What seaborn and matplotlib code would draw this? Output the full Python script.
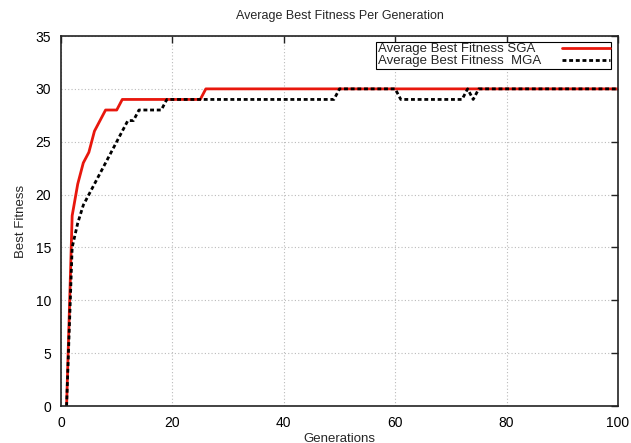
import matplotlib
matplotlib.use("Agg")
import matplotlib.pyplot as plt
import numpy as np
import pandas as pd
import seaborn as sns

# ---------------------------------------------------------------------------
# DATA
# ---------------------------------------------------------------------------
generations = list(range(1, 101))

sga_fitness = [
    0, 18, 21, 23, 24, 26, 27, 28, 28, 28,
    29, 29, 29, 29, 29, 29, 29, 29, 29, 29,
    29, 29, 29, 29, 29, 30, 30, 30, 30, 30,
    30, 30, 30, 30, 30, 30, 30, 30, 30, 30,
    30, 30, 30, 30, 30, 30, 30, 30, 30, 30,
    30, 30, 30, 30, 30, 30, 30, 30, 30, 30,
    30, 30, 30, 30, 30, 30, 30, 30, 30, 30,
    30, 30, 30, 30, 30, 30, 30, 30, 30, 30,
    30, 30, 30, 30, 30, 30, 30, 30, 30, 30,
    30, 30, 30, 30, 30, 30, 30, 30, 30, 30,
]

mga_fitness = [
    0, 15, 17.3, 19, 20, 21, 22, 23, 24, 25,
    26, 27, 27, 28, 28, 28, 28, 28, 29, 29,
    29, 29, 29, 29, 29, 29, 29, 29, 29, 29,
    29, 29, 29, 29, 29, 29, 29, 29, 29, 29,
    29, 29, 29, 29, 29, 29, 29, 29, 29, 30,
    30, 30, 30, 30, 30, 30, 30, 30, 30, 30,
    29, 29, 29, 29, 29, 29, 29, 29, 29, 29,
    29, 29, 30, 29, 30, 30, 30, 30, 30, 30,
    30, 30, 30, 30, 30, 30, 30, 30, 30, 30,
    30, 30, 30, 30, 30, 30, 30, 30, 30, 30,
]

labels = ["Average Best Fitness SGA  ", "Average Best Fitness  MGA"]
x_ticks = [0, 20, 40, 60, 80, 100]
y_ticks = [0, 5, 10, 15, 20, 25, 30, 35]

df_sga = pd.DataFrame({"gen": generations, "fit": sga_fitness})
df_mga = pd.DataFrame({"gen": generations, "fit": mga_fitness})

# ---------------------------------------------------------------------------
# PLOT
# ---------------------------------------------------------------------------
sns.set_style("white")
plt.rcParams["font.family"] = ["Liberation Sans", "DejaVu Sans"]

fig = plt.figure(figsize=(6.31, 4.43), dpi=100)
ax = fig.add_axes([0.0967, 0.0835, 0.8827, 0.8352])

sns.lineplot(data=df_sga, x="gen", y="fit", color="#e8170d", lw=2.0,
             label=labels[0], ax=ax)
sns.lineplot(data=df_mga, x="gen", y="fit", color="black", lw=2.0,
             linestyle=(0, (1.4, 1.0)), label=labels[1], ax=ax)

ax.set_xlim(0, 100)
ax.set_ylim(0, 35)
ax.set_xticks(x_ticks)
ax.set_yticks(y_ticks)
ax.tick_params(direction="in", length=5, width=1, labelsize=10,
               top=True, right=True, colors="#222222", pad=7)
for lab in ax.get_xticklabels() + ax.get_yticklabels():
    lab.set_color("black")
for sp in ax.spines.values():
    sp.set_color("#222222")
    sp.set_linewidth(1.2)

ax.grid(True, color="#bbbbbb", linestyle=(0, (1, 2)), linewidth=0.8)
ax.set_axisbelow(True)

ax.set_title("Average Best Fitness Per Generation", fontsize=9, pad=12)
ax.set_xlabel("Generations", fontsize=9.5, labelpad=2)
ax.set_ylabel("Best Fitness", fontsize=9.5, labelpad=6)

leg = ax.legend(loc="upper right", bbox_to_anchor=(0.988, 0.985),
                borderaxespad=0, markerfirst=False, fontsize=9.5,
                handlelength=3.6, handletextpad=1.6, labelspacing=0.0,
                borderpad=0.1, fancybox=False, framealpha=1,
                alignment="left")
leg.get_frame().set_edgecolor("black")
leg.get_frame().set_linewidth(0.8)

fig.savefig("out.png", dpi=100)
